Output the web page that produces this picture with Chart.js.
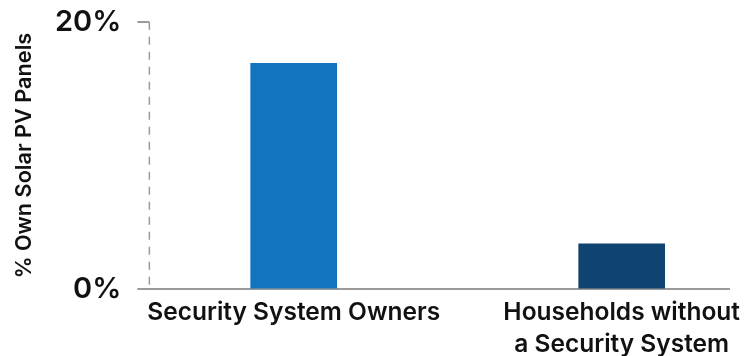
<!DOCTYPE html>
<html>
<head>
<meta charset="utf-8">
<script src="https://cdn.jsdelivr.net/npm/chart.js@4/dist/chart.umd.min.js"></script>
<style>
  html, body { margin: 0; padding: 0; background: #fff; overflow: hidden; }
  #wrap { width: 748px; height: 356px; }
</style>
</head>
<body>
<div id="wrap"><canvas id="c" width="748" height="356"></canvas></div>
<script>
// chart data
const categories = [
    ['Security System Owners'],
    ['Households without', 'a Security System']
];
const shares = [16.9, 3.4];
const barColors = ['#1274BD', '#0E446F'];
const yTicks = [0, 20];

const FONT = '"Inter", "Lato", sans-serif';
const AXIS_GREY = '#9a9a9a';

// dashed vertical axis line on the left of the plot
const dashedYAxis = {
    id: 'dashedYAxis',
    afterDraw(chart) {
        const { ctx, scales: { x, y } } = chart;
        ctx.save();
        ctx.strokeStyle = AXIS_GREY;
        ctx.lineWidth = 1.5;
        ctx.setLineDash([8, 7]);
        ctx.beginPath();
        ctx.moveTo(x.left, y.top);
        ctx.lineTo(x.left, y.bottom);
        ctx.stroke();
        ctx.restore();
    }
};

new Chart(document.getElementById('c').getContext('2d'), {
    type: 'bar',
    data: {
        datasets: [{
            data: shares.map((v, i) => ({ x: i, y: v })),
            backgroundColor: barColors,
            borderWidth: 0,
            barThickness: 86
        }]
    },
    options: {
        responsive: false,
        animation: false,
        layout: { padding: { top: 16, right: 0, left: 11, bottom: -12 } },
        plugins: {
            legend: { display: false },
            tooltip: { enabled: false }
        },
        scales: {
            x: {
                type: 'linear',
                offset: false,
                min: -0.44,
                max: 1.33,
                grid: { display: false, drawTicks: false },
                border: { color: AXIS_GREY, width: 2 },
                ticks: {
                    stepSize: 1,
                    includeBounds: false,
                    autoSkip: false,
                    maxRotation: 0,
                    padding: 8,
                    color: '#111',
                    font: { family: FONT, size: 24.5, weight: '600', lineHeight: 1.28 },
                    callback: v => Number.isInteger(v) && categories[v] ? categories[v] : ''
                }
            },
            y: {
                min: 0,
                max: 20,
                afterBuildTicks: axis => { axis.ticks = yTicks.map(v => ({ value: v })); },
                grid: {
                    drawOnChartArea: false,
                    drawTicks: true,
                    tickLength: 12,
                    tickColor: AXIS_GREY,
                    lineWidth: 2
                },
                border: { display: false },
                ticks: {
                    padding: 16,
                    color: '#111',
                    font: { family: FONT, size: 29, weight: '600', lineHeight: 0.4 },
                    callback: v => v + '%'
                },
                title: {
                    display: true,
                    text: '% Own Solar PV Panels',
                    color: '#111',
                    padding: { top: 0, bottom: 2 },
                    font: { family: FONT, size: 21.7, weight: '600' }
                }
            }
        }
    },
    plugins: [dashedYAxis]
});
</script>
</body>
</html>
